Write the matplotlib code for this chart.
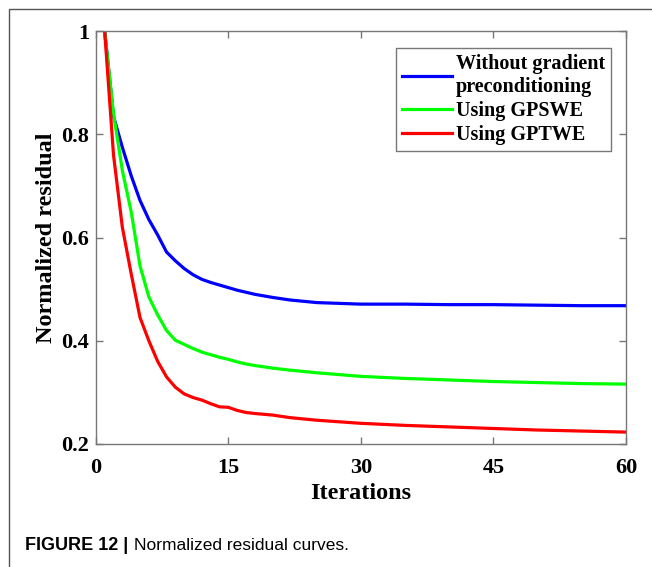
'''Normalized residual curves.'''
import numpy as np
import matplotlib.pyplot as plt
from matplotlib.lines import Line2D

iters = [1, 2, 3, 4, 5, 6, 7, 8, 9, 10, 11, 12, 13, 14, 15, 16, 17, 18, 20,
         22, 25, 30, 35, 40, 45, 50, 55, 60]

res_plain = [1.0, 0.835, 0.775, 0.72, 0.672, 0.635, 0.605, 0.572, 0.555, 0.54,
             0.528, 0.519, 0.513, 0.508, 0.503, 0.498, 0.494, 0.490, 0.484,
             0.479, 0.474, 0.471, 0.471, 0.470, 0.470, 0.469, 0.468, 0.468]
res_gpswe = [1.0, 0.84, 0.73, 0.65, 0.545, 0.485, 0.45, 0.42, 0.401, 0.393,
             0.385, 0.378, 0.373, 0.368, 0.364, 0.359, 0.355, 0.352, 0.347,
             0.343, 0.338, 0.331, 0.327, 0.324, 0.321, 0.319, 0.317, 0.316]
res_gptwe = [1.0, 0.76, 0.62, 0.53, 0.445, 0.40, 0.36, 0.33, 0.31, 0.297,
             0.29, 0.285, 0.278, 0.272, 0.271, 0.265, 0.261, 0.259, 0.256,
             0.251, 0.246, 0.240, 0.236, 0.233, 0.230, 0.227, 0.225, 0.223]

labels = ['Without gradient\npreconditioning', 'Using GPSWE', 'Using GPTWE']
colors = ['#0000ff', '#00ff00', '#ff0000']

xticks = [0, 15, 30, 45, 60]
yticks = [0.2, 0.4, 0.6, 0.8, 1.0]
ytick_labels = ['0.2', '0.4', '0.6', '0.8', '1']

serif = 'Liberation Serif'
grey = '#777777'

fig = plt.figure(figsize=(6.52, 5.67), dpi=100)
ax = fig.add_axes([0.147, 0.217, 0.813, 0.728])

for y, lab, c in zip([res_plain, res_gpswe, res_gptwe], labels, colors):
    ax.plot(iters, y, color=c, lw=2.3, label=lab)

ax.set_xlim(0, 60)
ax.set_ylim(0.2, 1.0)
ax.set_xticks(xticks)
ax.set_yticks(yticks)
ax.set_yticklabels(ytick_labels)
ax.tick_params(direction='in', length=5, width=1, color=grey, top=True,
               right=True, labelsize=16)
ax.tick_params(axis='x', pad=10)
ax.tick_params(axis='y', pad=5)
for t in ax.get_xticklabels() + ax.get_yticklabels():
    t.set_fontfamily(serif)
    t.set_fontweight('bold')
for s in ax.spines.values():
    s.set_color(grey)
    s.set_linewidth(1)

ax.set_xlabel('Iterations', fontsize=17.5, fontweight='bold', family=serif,
              labelpad=4)
ax.set_ylabel('Normalized residual', fontsize=17.5, fontweight='bold',
              family=serif, labelpad=3)

leg = ax.legend(loc='upper right', bbox_to_anchor=(0.972, 0.959),
                prop={'family': serif, 'weight': 'bold', 'size': 14.5},
                fancybox=False, framealpha=1, edgecolor=grey,
                handlelength=2.45, handletextpad=0.2, borderpad=0.3,
                labelspacing=0.2, borderaxespad=0)
leg.get_frame().set_linewidth(1)

# page frame (left and top border of the figure panel)
fig.add_artist(Line2D([9 / 652, 9 / 652, 1], [0, 1 - 9 / 567, 1 - 9 / 567],
                      color='#555555', lw=1, transform=fig.transFigure))

fig.text(25 / 652, 1 - 545 / 567, 'FIGURE 12 |', fontsize=13,
         fontweight='bold', family='Liberation Sans', va='center')
fig.text(134 / 652, 1 - 545 / 567, 'Normalized residual curves.',
         fontsize=12.5, family='Liberation Sans', va='center')

fig.savefig('out.png', dpi=100)
